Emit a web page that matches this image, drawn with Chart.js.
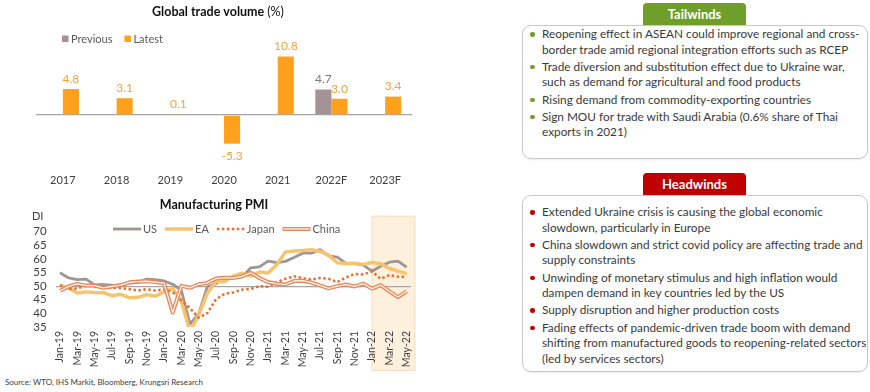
<!DOCTYPE html>
<html>
<head>
<meta charset="utf-8">
<script src="https://cdn.jsdelivr.net/npm/chart.js@4.4.1/dist/chart.umd.min.js"></script>
<style>
body{margin:0;width:870px;height:392px;position:relative;background:#fff;font-family:Lato,sans-serif;overflow:hidden}
#trade{position:absolute;left:0;top:0}
#pmi{position:absolute;left:0;top:195px}
.tab{position:absolute;left:643px;width:103px;height:22px;color:#fff;font-weight:bold;font-size:13px;text-align:center;line-height:22px;border-radius:4px 4px 0 0}
.box{position:absolute;left:522px;width:346px;border:1px solid #c8c8c8;border-radius:9px;box-sizing:border-box;box-shadow:0 1px 2px rgba(0,0,0,.08)}
.box ul{list-style:none;margin:0;padding:0;position:absolute;left:19px}
.box li{position:relative;font-size:11.8px;line-height:15.5px;color:#3a3a3a;margin-bottom:1.8px;white-space:nowrap}
.box li::before{content:'';position:absolute;left:-12px;top:6px;width:4.5px;height:4.5px;border-radius:50%}
.green li::before{background:#6f9f2a}
.red li::before{background:#c00000}
#src{position:absolute;left:5px;top:377px;font-size:8px;color:#404040}
</style>
</head>
<body>
<canvas id="trade" width="430" height="195"></canvas>
<canvas id="pmi" width="430" height="180"></canvas>

<div class="tab" style="top:3px;background:#6f9f2a">Tailwinds</div>
<div class="box green" style="top:25px;height:134px">
  <ul style="top:0">
    <li>Reopening effect in ASEAN could improve regional and cross-<br>border trade amid regional integration efforts such as RCEP</li>
    <li>Trade diversion and substitution effect due to Ukraine war,<br>such as demand for agricultural and food products</li>
    <li>Rising demand from commodity-exporting countries</li>
    <li>Sign MOU for trade with Saudi Arabia (0.6% share of Thai<br>exports in 2021)</li>
  </ul>
</div>

<div class="tab" style="top:173px;background:#c00000">Headwinds</div>
<div class="box red" style="top:195px;height:177px">
  <ul style="top:8px">
    <li>Extended Ukraine crisis is causing the global economic<br>slowdown, particularly in Europe</li>
    <li>China slowdown and strict covid policy are affecting trade and<br>supply constraints</li>
    <li>Unwinding of monetary stimulus and high inflation would<br>dampen demand in key countries led by the US</li>
    <li>Supply disruption and higher production costs</li>
    <li>Fading effects of pandemic-driven trade boom with demand<br>shifting from manufactured goods to reopening-related sectors<br>(led by services sectors)</li>
  </ul>
</div>

<div id="src">Source: WTO, IHS Markit, Bloomberg, Krungsri Research</div>

<script>
// global trade volume (%)
const years = ['2017', '2018', '2019', '2020', '2021', '2022F', '2023F'];
const previous = [null, null, null, null, null, 4.7, null];
const latest = [4.8, 3.1, 0.1, -5.3, 10.8, 3.0, 3.4];

// manufacturing PMI
const months = ['Jan-19','Feb-19','Mar-19','Apr-19','May-19','Jun-19','Jul-19','Aug-19','Sep-19','Oct-19','Nov-19','Dec-19',
  'Jan-20','Feb-20','Mar-20','Apr-20','May-20','Jun-20','Jul-20','Aug-20','Sep-20','Oct-20','Nov-20','Dec-20',
  'Jan-21','Feb-21','Mar-21','Apr-21','May-21','Jun-21','Jul-21','Aug-21','Sep-21','Oct-21','Nov-21','Dec-21',
  'Jan-22','Feb-22','Mar-22','Apr-22','May-22'];
const us = [54.9,53.0,52.4,52.6,50.5,50.6,50.4,50.3,51.1,51.3,52.6,52.4,51.9,50.7,48.5,36.1,39.8,49.8,50.9,53.1,53.2,53.4,56.7,57.1,59.2,58.6,59.1,60.5,62.1,62.1,63.4,61.1,60.7,58.4,58.3,57.7,55.5,57.3,58.8,59.2,57.0];
const ea = [50.5,49.3,47.5,47.9,47.7,47.6,46.5,47.0,45.7,45.9,46.9,46.3,47.9,49.2,44.5,33.4,39.4,47.4,51.8,51.7,53.7,54.8,53.8,55.2,54.8,57.9,62.5,62.9,63.1,63.4,62.8,61.4,58.6,58.3,58.4,58.0,58.7,58.2,56.5,55.5,54.6];
const japan = [50.3,48.9,49.2,50.2,49.8,49.3,49.4,49.3,48.9,48.4,48.9,48.4,48.8,47.8,44.8,41.9,38.4,40.1,45.2,47.2,47.7,48.7,49.0,50.0,49.8,51.4,52.7,53.6,53.0,52.4,53.0,52.7,51.5,53.2,54.5,54.3,55.4,52.7,54.1,53.5,53.3];
const china = [48.3,49.9,50.8,50.2,50.2,49.4,49.9,50.4,51.4,51.7,51.8,51.5,51.1,40.3,50.1,49.4,50.7,51.2,52.8,53.1,53.0,53.6,54.9,53.0,51.5,50.9,50.6,51.9,52.0,51.3,50.3,49.2,50.0,50.6,49.9,50.9,49.1,50.4,48.1,46.0,48.1];
const pmiTicks = [35, 40, 45, 50, 55, 60, 65, 70];
const shadeFrom = 'Jan-22';

const FONT = 'Lato';
const TEXT = '#404040';

const barLabels = {
  id: 'barLabels',
  afterDatasetsDraw(chart) {
    const ctx = chart.ctx;
    ctx.save();
    ctx.font = '12px ' + FONT;
    ctx.textAlign = 'center';
    ctx.textBaseline = 'middle';
    chart.data.datasets.forEach((ds, i) => {
      chart.getDatasetMeta(i).data.forEach((bar, j) => {
        const v = ds.data[j];
        if (v === null) return;
        ctx.fillStyle = ds.labelColor;
        ctx.fillText(v.toFixed(1), bar.x, v >= 0 ? bar.y - 10 : bar.y + 12);
      });
    });
    ctx.restore();
  }
};

const tradeHeader = {
  id: 'tradeHeader',
  afterDraw(chart) {
    const ctx = chart.ctx;
    ctx.save();
    ctx.textBaseline = 'middle';
    ctx.fillStyle = '#111';
    const a = 'Global trade volume ', b = '(%)';
    ctx.font = 'bold 12.5px ' + FONT;
    const wa = ctx.measureText(a).width;
    ctx.font = '12.5px ' + FONT;
    const wb = ctx.measureText(b).width;
    let x = 218 - (wa + wb) / 2;
    ctx.font = 'bold 12.5px ' + FONT;
    ctx.fillText(a, x, 12);
    ctx.font = '12.5px ' + FONT;
    ctx.fillText(b, x + wa, 12);
    // legend
    ctx.font = '11px ' + FONT;
    x = 62;
    chart.data.datasets.forEach(ds => {
      ctx.fillStyle = ds.backgroundColor;
      ctx.fillRect(x, 35.5, 6.5, 6.5);
      ctx.fillStyle = '#595959';
      ctx.fillText(ds.label, x + 9, 39);
      x += 9 + ctx.measureText(ds.label).width + 12;
    });
    ctx.restore();
  }
};

new Chart(document.getElementById('trade'), {
  type: 'bar',
  data: {
    labels: years,
    datasets: [
      { label: 'Previous', data: previous, backgroundColor: '#a39394', labelColor: '#7a7a7a', categoryPercentage: 0.6, barPercentage: 1 },
      { label: 'Latest', data: latest, backgroundColor: '#ffa11c', labelColor: '#f2a33a', categoryPercentage: 0.6, barPercentage: 1 }
    ]
  },
  options: {
    responsive: false,
    animation: false,
    layout: { padding: { left: 36, right: 18, top: 50, bottom: 0 } },
    plugins: { legend: { display: false }, tooltip: { enabled: false } },
    scales: {
      x: {
        grid: { display: false, drawTicks: false },
        border: { display: false },
        ticks: { padding: 13, color: TEXT, font: { family: FONT, size: 11 } },
        afterFit: s => { s.height = 34; }
      },
      y: {
        min: -8.5, max: 12,
        ticks: { display: false, stepSize: 1 },
        grid: { drawTicks: false, lineWidth: 1.3, color: c => c.tick.value === 0 ? '#a6a6a6' : 'rgba(0,0,0,0)' },
        border: { display: false },
        afterFit: s => { s.width = 0; }
      }
    }
  },
  plugins: [barLabels, tradeHeader]
});

const pmiDecor = {
  id: 'pmiDecor',
  beforeDraw(chart) {
    const ctx = chart.ctx, x = chart.scales.x, a = chart.chartArea;
    const i = months.indexOf(shadeFrom);
    const step = x.getPixelForValue(1) - x.getPixelForValue(0);
    const left = x.getPixelForValue(i) - 0.5;
    const right = x.getPixelForValue(months.length - 1) + step;
    ctx.save();
    ctx.fillStyle = '#fdf0dd';
    ctx.strokeStyle = '#f4dfc2';
    ctx.fillRect(left, a.top - 16, right - left, a.bottom - a.top + 60);
    ctx.strokeRect(left + 0.5, a.top - 15.5, right - left - 1, a.bottom - a.top + 59);
    ctx.restore();
  },
  afterDraw(chart) {
    const ctx = chart.ctx;
    ctx.save();
    ctx.textBaseline = 'middle';
    ctx.fillStyle = '#111';
    ctx.font = 'bold 12.5px ' + FONT;
    ctx.textAlign = 'center';
    ctx.fillText('Manufacturing PMI', 214, 10);
    ctx.textAlign = 'left';
    ctx.font = '11px ' + FONT;
    ctx.fillStyle = TEXT;
    ctx.fillText('DI', 32, 21);
    // legend
    let x = 113;
    const y = 34;
    chart.data.datasets.filter(ds => ds.legend).forEach(ds => {
      ctx.save();
      ctx.beginPath();
      ctx.moveTo(x, y);
      ctx.lineTo(x + 28, y);
      ctx.strokeStyle = ds.borderColor;
      ctx.lineWidth = ds.borderWidth;
      if (ds.borderDash) ctx.setLineDash(ds.borderDash);
      ctx.stroke();
      if (ds.innerColor) {
        ctx.beginPath();
        ctx.moveTo(x + 1, y);
        ctx.lineTo(x + 27, y);
        ctx.strokeStyle = ds.innerColor;
        ctx.lineWidth = 1.3;
        ctx.stroke();
      }
      ctx.restore();
      ctx.fillStyle = '#595959';
      ctx.fillText(ds.label, x + 30, y);
      x += 30 + ctx.measureText(ds.label).width + 8;
    });
    ctx.restore();
  }
};

new Chart(document.getElementById('pmi'), {
  type: 'line',
  data: {
    labels: months,
    datasets: [
      { label: 'US', data: us, borderColor: '#a09595', borderWidth: 2.8, order: 4, legend: true },
      { label: 'EA', data: ea, borderColor: '#f7c46e', borderWidth: 3.5, order: 3, legend: true },
      { label: 'Japan', data: japan, borderColor: '#ea6d2c', borderWidth: 2.5, borderDash: [2.5, 2.5], order: 2, legend: true },
      { label: 'China', data: china, borderColor: '#e8875a', borderWidth: 4, order: 1, legend: true, innerColor: '#fff6f0' },
      { label: 'China inner', data: china, borderColor: '#fff6f0', borderWidth: 1.3, order: 0 }
    ]
  },
  options: {
    responsive: false,
    animation: false,
    layout: { padding: { left: 0, right: 19, top: 36.7, bottom: 8 } },
    elements: { point: { radius: 0 }, line: { tension: 0, borderJoinStyle: 'round' } },
    plugins: { legend: { display: false }, tooltip: { enabled: false } },
    scales: {
      x: {
        offset: true,
        grid: { display: false, drawTicks: false },
        border: { display: false },
        ticks: {
          autoSkip: false, minRotation: 90, maxRotation: 90, padding: 4,
          color: TEXT, font: { family: FONT, size: 10.5 },
          callback: function (v, i) { return i % 2 === 0 ? this.getLabelForValue(v) : ''; }
        },
        afterFit: s => { s.height = 40; }
      },
      y: {
        min: pmiTicks[0], max: pmiTicks[pmiTicks.length - 1],
        afterBuildTicks: s => { s.ticks = pmiTicks.map(v => ({ value: v })); },
        ticks: { autoSkip: false, padding: 9, color: TEXT, font: { family: FONT, size: 11.5 } },
        grid: { drawTicks: false, lineWidth: 1.2, color: c => c.tick.value === 50 ? '#a6a6a6' : 'rgba(0,0,0,0)' },
        border: { display: false },
        afterFit: s => { s.width = 55.7; }
      }
    }
  },
  plugins: [pmiDecor]
});
</script>
</body>
</html>
